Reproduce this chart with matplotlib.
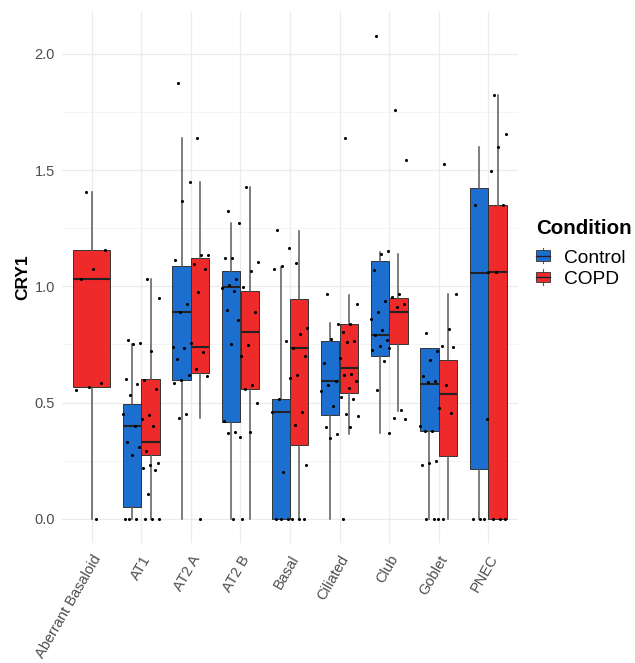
import numpy as np
import matplotlib
matplotlib.use("Agg")
import matplotlib.pyplot as plt
from matplotlib.legend_handler import HandlerBase
import matplotlib.patches as mpatches
import matplotlib.lines as mlines

plt.rcParams['font.family'] = ['Liberation Sans', 'DejaVu Sans']

# ---------------- data ----------------
categories = ["Aberrant Basaloid", "AT1", "AT2 A", "AT2 B", "Basal",
              "Ciliated", "Club", "Goblet", "PNEC"]
nan = np.nan
# box statistics (Control)
control_lo  = [nan, 0.000, 0.000, 0.000, 0.000, 0.000, 0.370, 0.000, 0.000]
control_q1  = [nan, 0.051, 0.598, 0.416, 0.000, 0.448, 0.701, 0.378, 0.213]
control_med = [nan, 0.398, 0.890, 0.996, 0.461, 0.591, 0.790, 0.582, 1.056]
control_q3  = [nan, 0.492, 1.087, 1.067, 0.514, 0.767, 1.110, 0.735, 1.425]
control_hi  = [nan, 0.754, 1.637, 1.272, 1.083, 0.844, 1.146, 0.735, 1.598]
# box statistics (COPD)
copd_lo  = [0.000, 0.000, 0.433, 0.000, 0.000, 0.366, 0.464, 0.000, 0.000]
copd_q1  = [0.568, 0.275, 0.628, 0.558, 0.316, 0.540, 0.750, 0.270, 0.000]
copd_med = [1.030, 0.329, 0.738, 0.802, 0.733, 0.647, 0.888, 0.535, 1.060]
copd_q3  = [1.155, 0.600, 1.120, 0.980, 0.946, 0.840, 0.951, 0.682, 1.350]
copd_hi  = [1.405, 1.030, 1.448, 1.428, 1.240, 0.964, 1.140, 0.967, 1.823]

# individual sample values
control_points = [
    [],
    [0.768, 0.757, 0.752, 0.600, 0.581, 0.534, 0.452, 0.399, 0.330, 0.309, 0.275, 0.0, 0.0, 0.0],
    [1.874, 1.448, 1.365, 1.112, 0.924, 0.890, 0.738, 0.733, 0.688, 0.618, 0.598, 0.584, 0.450, 0.433],
    [1.325, 1.272, 1.122, 1.122, 1.030, 1.004, 0.993, 0.981, 0.897, 0.854, 0.750, 0.420, 0.372, 0.370, 0.352, 0.0],
    [1.242, 1.167, 1.087, 1.073, 0.765, 0.514, 0.461, 0.203, 0.0, 0.0, 0.0],
    [0.967, 0.838, 0.772, 0.672, 0.591, 0.575, 0.549, 0.485, 0.396, 0.365, 0.346],
    [2.076, 1.150, 1.140, 1.072, 0.939, 0.888, 0.861, 0.814, 0.790, 0.771, 0.744, 0.725, 0.677, 0.552, 0.370],
    [0.801, 0.720, 0.682, 0.614, 0.592, 0.588, 0.399, 0.378, 0.376, 0.249, 0.240, 0.230, 0.0, 0.0, 0.0],
    [1.350, 0.430, 0.0, 0.0, 0.0],
]
copd_points = [
    [1.405, 1.155, 1.075, 1.030, 0.585, 0.568, 0.553, 0.0],
    [1.030, 0.950, 0.724, 0.596, 0.558, 0.446, 0.429, 0.399, 0.292, 0.240, 0.232, 0.219, 0.210, 0.107, 0.0, 0.0, 0.0],
    [1.638, 1.133, 1.133, 1.098, 1.073, 0.974, 0.757, 0.718, 0.644, 0.614, 0.0],
    [1.428, 1.103, 1.067, 0.997, 0.890, 0.747, 0.700, 0.576, 0.557, 0.499, 0.375, 0.0],
    [1.099, 0.820, 0.795, 0.733, 0.701, 0.617, 0.605, 0.461, 0.403, 0.232, 0.0, 0.0, 0.0],
    [1.637, 0.924, 0.840, 0.802, 0.765, 0.760, 0.691, 0.622, 0.618, 0.591, 0.562, 0.525, 0.515, 0.452, 0.443, 0.396, 0.0],
    [1.760, 1.542, 0.966, 0.953, 0.924, 0.910, 0.734, 0.467, 0.434, 0.430],
    [1.525, 0.967, 0.818, 0.742, 0.740, 0.574, 0.475, 0.456, 0.0],
    [1.823, 1.657, 1.600, 1.498, 1.350, 1.060, 1.060, 0.0, 0.0, 0.0],
]
groups = ["Control", "COPD"]
colors = {"Control": "#1C6FCF", "COPD": "#EE2A2A"}

# ---------------- figure ----------------
W, H = 635, 663
fig = plt.figure(figsize=(W / 100, H / 100), dpi=100)
ax = fig.add_axes([62 / W, 1 - 543 / H, 456 / W, 531 / H])

dodge = 0.1875
bw = 0.37
edge = "#333333"
whisk = "#5A5A5A"

def stats(lo, q1, med, q3, hi):
    return dict(whislo=lo, q1=q1, med=med, q3=q3, whishi=hi, fliers=[])

def jitter_offsets(n, half):
    i = np.arange(n)
    return (((i * 0.61803398875 + 0.31) % 1.0) - 0.5) * 2 * half

for ci, cat in enumerate(categories):
    x0 = ci + 1
    has_ctrl = not np.isnan(control_q1[ci])
    entries = []
    if has_ctrl:
        entries.append(("Control", x0 - dodge, bw,
                        stats(control_lo[ci], control_q1[ci], control_med[ci], control_q3[ci], control_hi[ci]),
                        control_points[ci], 0.19))
        entries.append(("COPD", x0 + dodge, bw,
                        stats(copd_lo[ci], copd_q1[ci], copd_med[ci], copd_q3[ci], copd_hi[ci]),
                        copd_points[ci], 0.19))
    else:
        entries.append(("COPD", x0, 2 * bw,
                        stats(copd_lo[ci], copd_q1[ci], copd_med[ci], copd_q3[ci], copd_hi[ci]),
                        copd_points[ci], 0.32))
    for g, pos, w, st, pts, jw in entries:
        ax.bxp([st], positions=[pos], widths=[w], showfliers=False, showcaps=False,
               patch_artist=True, manage_ticks=False,
               boxprops=dict(facecolor=colors[g], edgecolor=edge, linewidth=0.7),
               whiskerprops=dict(color=whisk, linewidth=1.1),
               medianprops=dict(color="#222222", linewidth=1.5),
               zorder=2)
        if len(pts):
            xs = pos + jitter_offsets(len(pts), jw)
            ax.scatter(xs, pts, s=5, color="black", zorder=4, linewidths=0)

ax.set_xlim(0.4, 9.6)
ax.set_ylim(-0.104, 2.18)
ax.set_xticks(np.arange(1, 10))
ax.set_xticklabels(categories, rotation=60, ha="right", va="top",
                   rotation_mode="anchor", fontsize=10.5, color="#4D4D4D")
ax.set_yticks([0.0, 0.5, 1.0, 1.5, 2.0])
ax.set_yticklabels(["0.0", "0.5", "1.0", "1.5", "2.0"], fontsize=10.5, color="#4D4D4D")
ax.set_yticks([0.25, 0.75, 1.25, 1.75], minor=True)
ax.tick_params(axis="both", which="both", length=0)
ax.tick_params(axis="y", pad=5)
ax.tick_params(axis="x", pad=7)
ax.grid(True, which="major", color="#EBEBEB", linewidth=0.9, zorder=0)
ax.grid(True, which="minor", axis="y", color="#F3F3F3", linewidth=0.6, zorder=0)
ax.set_axisbelow(True)
for s in ax.spines.values():
    s.set_visible(False)
ax.set_ylabel("CRY1", fontsize=12.5, fontweight="bold", labelpad=3)


class BoxKeyHandler(HandlerBase):
    def create_artists(self, legend, orig_handle, xdescent, ydescent, width, height, fontsize, trans):
        fc = orig_handle.get_facecolor()
        bx = mpatches.Rectangle((xdescent + width * 0.05, ydescent + height * 0.12),
                                width * 0.9, height * 0.76, facecolor=fc,
                                edgecolor=edge, linewidth=0.6, transform=trans)
        wl = mlines.Line2D([xdescent + width / 2] * 2, [ydescent - height * 0.08, ydescent + height * 1.08],
                           color=whisk, linewidth=0.8, transform=trans)
        md = mlines.Line2D([xdescent + width * 0.05, xdescent + width * 0.95],
                           [ydescent + height / 2] * 2, color="#222222", linewidth=1.0, transform=trans)
        return [wl, bx, md]


fig.text(536 / W, 1 - 229 / H, "Condition", fontsize=14.8, fontweight="bold",
         ha="left", va="center", color="black")
handles = [mpatches.Patch(facecolor=colors[g], label=g) for g in groups]
leg = fig.legend(handles=handles, labels=groups, loc="upper left",
                 bbox_to_anchor=(535 / W, 1 - 249 / H), frameon=False,
                 fontsize=13.8,
                 handler_map={mpatches.Patch: BoxKeyHandler()},
                 handlelength=0.8, handleheight=0.72, handletextpad=0.7,
                 labelspacing=0.2, borderaxespad=0, borderpad=0)

fig.savefig("out.png", dpi=100, facecolor="white")
